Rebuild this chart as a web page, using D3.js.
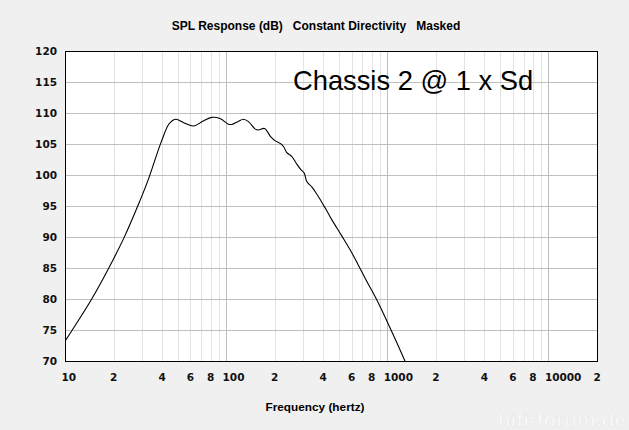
<!DOCTYPE html>
<html>
<head>
<meta charset="utf-8">
<script src="https://cdn.jsdelivr.net/npm/d3@7"></script>
<style>
  html, body { margin: 0; padding: 0; background: #f0f0f0; }
  svg { display: block; }
</style>
</head>
<body>
<svg id="chart" width="629" height="430"></svg>
<script>
// ---- data ----
const freqHz = [10, 11.1, 14.65, 18.7, 23.25, 28.7, 32.9, 35.9, 39.5, 43.8, 46.5, 48.9, 55, 62.7, 72, 81.4, 91.6,
  103.3, 108.5, 118, 128, 137.6, 151.6, 158.8, 173, 188.6, 202, 216.6, 227, 238, 255, 272, 290, 305, 317,
  340, 357, 380, 402, 418, 452, 524, 589, 660, 748, 863, 1000, 1139, 1284, 1400];
const splDb = [73.2, 75, 80, 85, 89.9, 95.4, 99.3, 102.2, 105.3, 108.1, 108.8, 109.0, 108.4, 107.9, 108.7, 109.3, 109.1,
  108.2, 108.15, 108.6, 109.0, 108.6, 107.4, 107.26, 107.5, 106.2, 105.5, 105.1, 104.6, 103.6, 103.0, 101.9, 100.9, 100.3, 98.9,
  98.1, 97.3, 96.2, 95.1, 94.4, 92.8, 90.1, 87.9, 85.5, 82.8, 79.8, 76.3, 73.1, 70.05, 67.6];
const yTicks = [70, 75, 80, 85, 90, 95, 100, 105, 110, 115, 120];
const xTickValues = [10, 20, 40, 60, 80, 100, 200, 400, 600, 800, 1000, 2000, 4000, 6000, 8000, 10000, 20000];
const xTickLabels = ["10", "2", "4", "6", "8", "100", "2", "4", "6", "8", "1000", "2", "4", "6", "8", "10000", "2"];
const titleText = "SPL Response (dB)   Constant Directivity   Masked";
const xAxisTitle = "Frequency (hertz)";
const noteText = "Chassis 2 @ 1 x Sd";

// ---- layout ----
const plot = { left: 65, right: 597, top: 51, bottom: 361 };
const svg = d3.select("#chart");

const x = d3.scaleLog().domain([10, 20000]).range([plot.left, plot.right]);
const y = d3.scaleLinear().domain([70, 120]).range([plot.bottom, plot.top]);

// plot background
svg.append("rect")
  .attr("x", plot.left).attr("y", plot.top)
  .attr("width", plot.right - plot.left).attr("height", plot.bottom - plot.top)
  .attr("fill", "#ffffff");

// vertical grid: minor (2..9 per decade) and decade lines
const minor = [];
const major = [];
for (let d = 10; d <= 10000; d *= 10) {
  for (let k = 1; k <= 9; k++) {
    const v = d * k;
    if (v > 20000) break;
    if (k === 1) major.push(v); else minor.push(v);
  }
}
const grid = svg.append("g").attr("shape-rendering", "crispEdges");
grid.selectAll("line.minor").data(minor.filter(v => v > 10 && v < 20000)).enter().append("line")
  .attr("x1", d => Math.round(x(d)) + 0.5).attr("x2", d => Math.round(x(d)) + 0.5)
  .attr("y1", plot.top).attr("y2", plot.bottom)
  .attr("stroke", "#e3e3e3").attr("stroke-width", 1);
grid.selectAll("line.major").data(major.filter(v => v > 10)).enter().append("line")
  .attr("x1", d => Math.round(x(d)) + 0.5).attr("x2", d => Math.round(x(d)) + 0.5)
  .attr("y1", plot.top).attr("y2", plot.bottom)
  .attr("stroke", "#bdbdbd").attr("stroke-width", 1);
grid.selectAll("line.h").data(yTicks.filter(v => v > 70 && v < 120)).enter().append("line")
  .attr("x1", plot.left).attr("x2", plot.right)
  .attr("y1", d => Math.round(y(d)) + 0.5).attr("y2", d => Math.round(y(d)) + 0.5)
  .attr("stroke", "#c0c0c0").attr("stroke-width", 1);

// note text inside plot
svg.append("text")
  .attr("x", 293).attr("y", 90)
  .attr("font-family", "'Liberation Sans', Arial, sans-serif")
  .attr("font-size", 27.3)
  .attr("fill", "#000")
  .text(noteText);

// curve
svg.append("clipPath").attr("id", "clip").append("rect")
  .attr("x", plot.left).attr("y", plot.top)
  .attr("width", plot.right - plot.left).attr("height", plot.bottom - plot.top);
const pts = freqHz.map((f, i) => [f, splDb[i]]);
const line = d3.line().x(d => x(d[0])).y(d => y(d[1])).curve(d3.curveCatmullRom.alpha(0.5));
svg.append("path")
  .attr("clip-path", "url(#clip)")
  .attr("d", line(pts))
  .attr("fill", "none")
  .attr("stroke", "#000")
  .attr("stroke-width", 1.1);

// border
svg.append("rect")
  .attr("x", plot.left + 0.5).attr("y", plot.top + 0.5)
  .attr("width", plot.right - plot.left).attr("height", plot.bottom - plot.top)
  .attr("fill", "none").attr("stroke", "#000").attr("stroke-width", 1.5)
  .attr("shape-rendering", "crispEdges");

// y-axis labels
const tickFont = "Verdana, 'DejaVu Sans', sans-serif";
svg.append("g").selectAll("text").data(yTicks).enter().append("text")
  .attr("x", 57).attr("y", d => y(d) + 4)
  .attr("text-anchor", "end")
  .attr("font-family", tickFont).attr("font-weight", "bold").attr("font-size", 10.5)
  .attr("fill", "#111")
  .text(d => d);

// x-axis labels (first character centred on the tick)
svg.append("g").selectAll("text").data(xTickValues).enter().append("text")
  .attr("x", (d, i) => x(d) - 3.6)
  .attr("y", 381)
  .attr("text-anchor", "start")
  .attr("font-family", tickFont).attr("font-weight", "bold").attr("font-size", 10.5)
  .attr("fill", "#111")
  .text((d, i) => xTickLabels[i]);

// titles
svg.append("text")
  .attr("x", 316).attr("y", 30)
  .attr("text-anchor", "middle")
  .attr("font-family", "'Liberation Sans', Arial, sans-serif").attr("font-weight", "bold")
  .attr("font-size", 12)
  .attr("fill", "#000")
  .attr("xml:space", "preserve").style("white-space", "pre")
  .text(titleText);

svg.append("text")
  .attr("x", 315).attr("y", 411)
  .attr("text-anchor", "middle")
  .attr("font-family", "'Liberation Sans', Arial, sans-serif").attr("font-weight", "bold")
  .attr("font-size", 11.8)
  .attr("fill", "#000")
  .text(xAxisTitle);

// faint watermark
svg.append("text")
  .attr("x", 626).attr("y", 427)
  .attr("text-anchor", "end")
  .attr("font-family", "'Liberation Sans', Arial, sans-serif").attr("font-weight", "bold")
  .attr("font-size", 21)
  .attr("fill", "#f8f8f8").attr("stroke", "#e6e6e6").attr("stroke-width", 0.5)
  .text("hifi-forum.de");
</script>
</body>
</html>
